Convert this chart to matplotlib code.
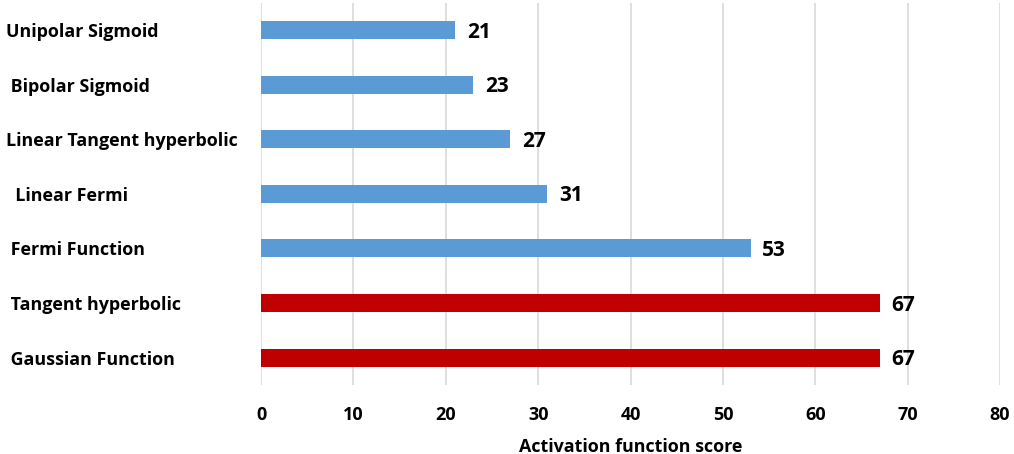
import matplotlib
matplotlib.use("Agg")
import matplotlib.pyplot as plt

categories = [
    "Unipolar Sigmoid",
    " Bipolar Sigmoid",
    "Linear Tangent hyperbolic",
    "  Linear Fermi",
    " Fermi Function",
    " Tangent hyperbolic",
    " Gaussian Function",
]
scores = [21, 23, 27, 31, 53, 67, 67]
highlight = [False, False, False, False, False, True, True]
x_ticks = [0, 10, 20, 30, 40, 50, 60, 70, 80]
x_label = "Activation function score"

BLUE = "#5B9BD5"
RED = "#C00000"

plt.rcParams["font.family"] = ["Open Sans", "DejaVu Sans"]
plt.rcParams["font.weight"] = "bold"

fig = plt.figure(figsize=(10.14, 4.54), dpi=100)
ax = fig.add_axes([0.2574, 0.152, 0.7288, 0.842])

ypos = list(range(len(categories)))
colors = [RED if h else BLUE for h in highlight]
bars = ax.barh(ypos, scores, height=0.33, color=colors, zorder=3)

for b, v in zip(bars, scores):
    ax.annotate(f"{v}", xy=(b.get_width(), b.get_y() + b.get_height() / 2),
                xytext=(8.5, -1.5), textcoords="offset points",
                ha="left", va="center", fontsize=15, fontweight="bold",
                color="black")

ax.set_xlim(0, 80)
ax.set_ylim(len(categories) - 0.5, -0.5)
ax.set_xticks(x_ticks)
ax.set_xticklabels([str(t) for t in x_ticks], fontsize=13, fontweight="bold")
ax.xaxis.grid(True, color="#D9D9D9", linewidth=1.2, zorder=0)
ax.tick_params(axis="x", length=0, pad=15)
ax.tick_params(axis="y", length=0)

ax.set_yticks(ypos)
ax.set_yticklabels(categories, fontsize=12.9, fontweight="bold", ha="left")
# left-align the category names near the figure edge
for lbl in ax.get_yticklabels():
    lbl.set_x(-0.338)

for s in ["top", "right", "bottom", "left"]:
    ax.spines[s].set_visible(False)

ax.set_xlabel(x_label, fontsize=12.9, fontweight="bold", labelpad=10)

fig.savefig("out.png", dpi=100)
